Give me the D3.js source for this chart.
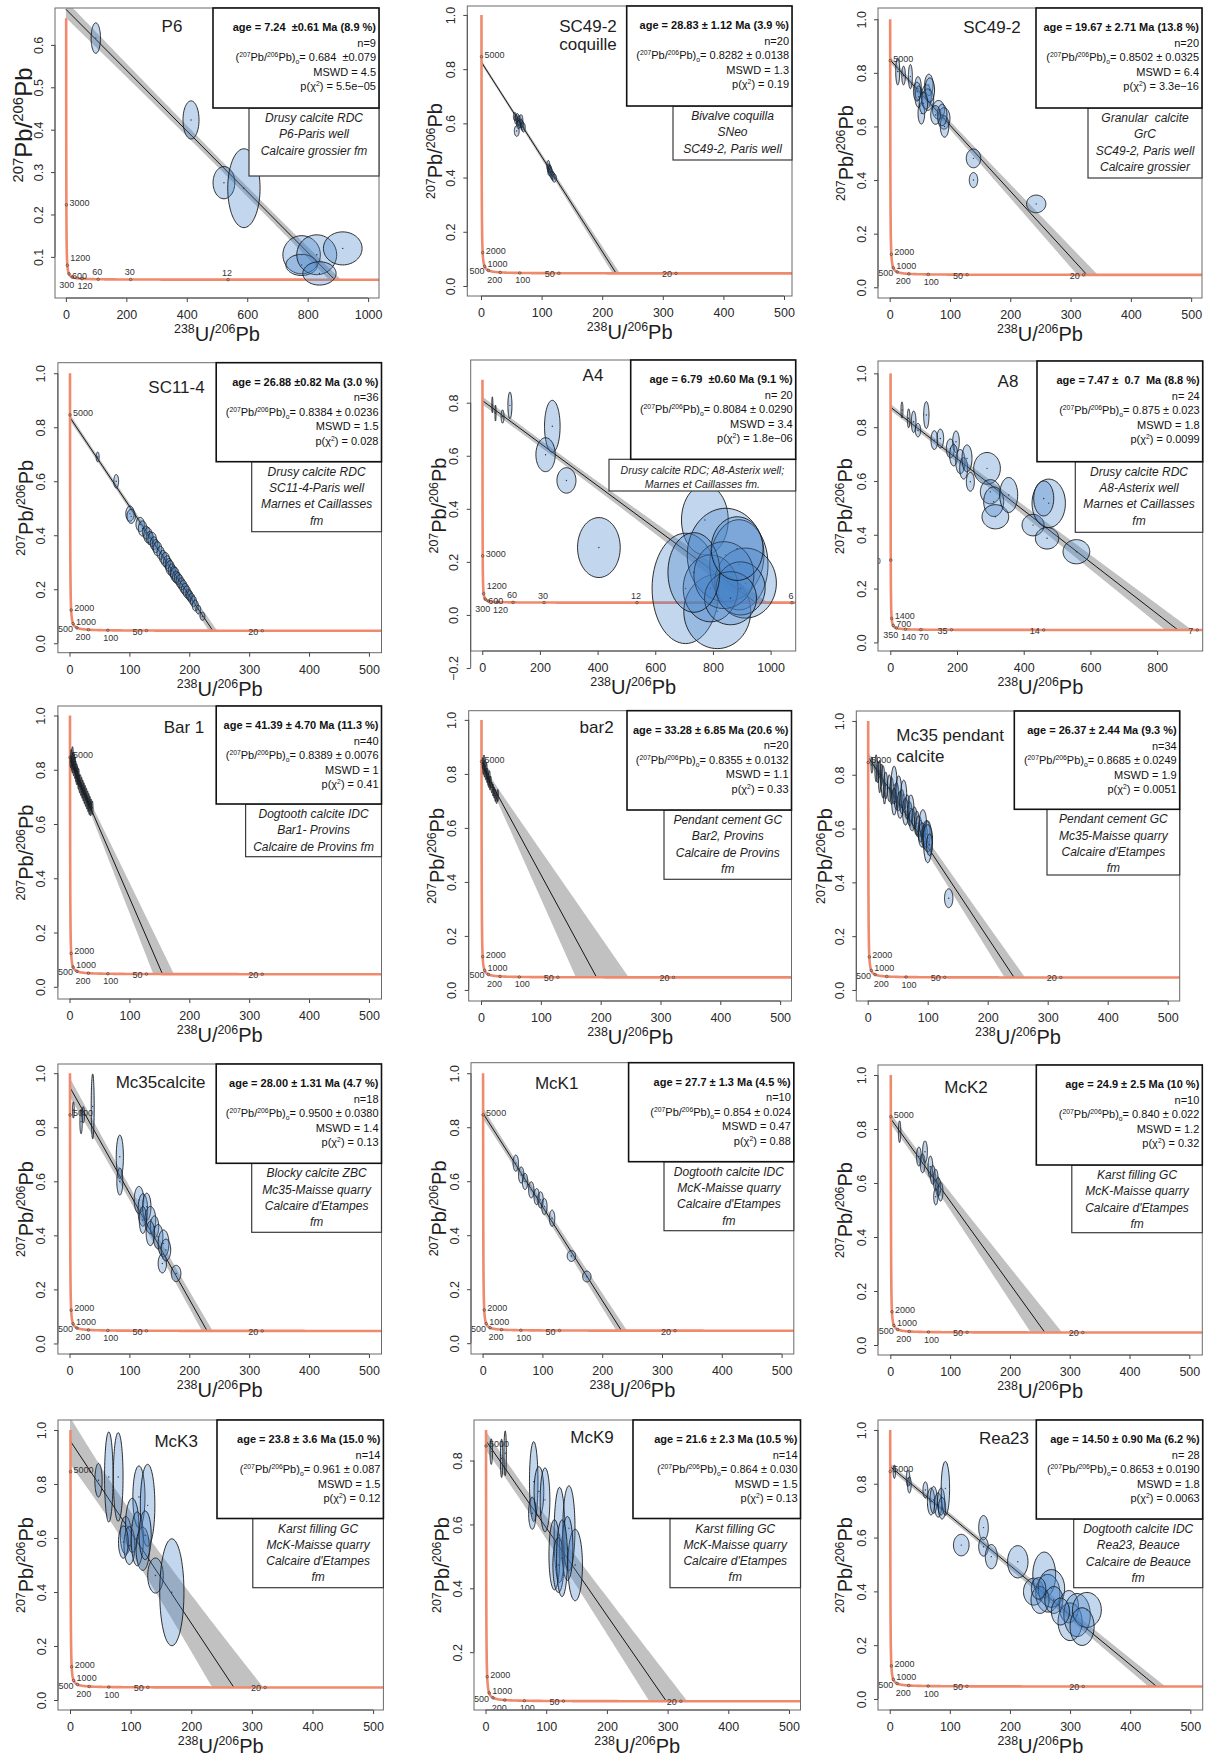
<!DOCTYPE html>
<html><head><meta charset="utf-8">
<script src="https://cdn.jsdelivr.net/npm/d3@7"></script>
<style>body{margin:0;background:#fff} svg{display:block;font-family:"Liberation Sans",Arial,Helvetica,sans-serif} text{white-space:pre}</style>
</head><body><svg id="chart" width="1211" height="1760"></svg>
<script>
// ---------- decay constants (per Ma) for the Tera-Wasserburg concordia ----------
const L8 = 1.55125e-4, L5 = 9.8485e-4, U85 = 137.818;

// ---------- sample metadata ----------
const sampleLabels = [["P6"],["SC49-2","coquille"],["SC49-2"],["SC11-4"],["A4"],["A8"],["Bar 1"],["bar2"],["Mc35 pendant","calcite"],["Mc35calcite"],["McK1"],["McK2"],["McK3"],["McK9"],["Rea23"]];
const ages   = [7.24, 28.83, 19.67, 26.88, 6.79, 7.47, 41.39, 33.28, 26.37, 28.00, 27.7, 24.9, 23.8, 21.6, 14.50];
const pb0    = [0.684, 0.8282, 0.8502, 0.8384, 0.8084, 0.875, 0.8389, 0.8355, 0.8685, 0.9500, 0.854, 0.840, 0.961, 0.864, 0.8653];
const bandY0 = [0.02, 0.008, 0.012, 0.012, 0.015, 0.012, 0.007, 0.012, 0.018, 0.035, 0.02, 0.02, 0.087, 0.03, 0.012];
const bandX  = [20, 6, 17, 7, 40, 40, 17, 42, 17, 9, 9, 26, 41, 31, 14];
const concTop = [0.663, 1, 1, 1, 0.887, 1, 1, 1, 1, 1, 1, 1, 1, 0.896, 1];

const statAge = ["age = 7.24  ±0.61 Ma (8.9 %)","age = 28.83 ± 1.12 Ma (3.9 %)","age = 19.67 ± 2.71 Ma (13.8 %)","age = 26.88 ±0.82 Ma (3.0 %)","age = 6.79  ±0.60 Ma (9.1 %)","age = 7.47 ±  0.7  Ma (8.8 %)","age = 41.39 ± 4.70 Ma (11.3 %)","age = 33.28 ± 6.85 Ma (20.6 %)","age = 26.37 ± 2.44 Ma (9.3 %)","age = 28.00 ± 1.31 Ma (4.7 %)","age = 27.7 ± 1.3 Ma (4.5 %)","age = 24.9 ± 2.5 Ma (10 %)","age = 23.8 ± 3.6 Ma (15.0 %)","age = 21.6 ± 2.3 Ma (10.5 %)","age = 14.50 ± 0.90 Ma (6.2 %)"];
const statN = ["n=9","n=20","n=20","n=36","n= 20","n= 24","n=40","n=20","n=34","n=18","n=10","n=10","n=14","n=14","n= 28"];
const statPb0 = ["0.684  ±0.079","0.8282 ± 0.0138","0.8502 ± 0.0325","0.8384 ± 0.0236","0.8084 ± 0.0290","0.875 ± 0.023","0.8389 ± 0.0076","0.8355 ± 0.0132","0.8685 ± 0.0249","0.9500 ± 0.0380","0.854 ± 0.024","0.840 ± 0.022","0.961 ± 0.087","0.864 ± 0.030","0.8653 ± 0.0190"];
const statMSWD = ["4.5","1.3","6.4","1.5","3.4","1.8","1","1.1","1.9","1.4","0.47","1.2","1.5","1.5","1.8"];
const statP = ["5.5e−05","0.19","3.3e−16","0.028","1.8e−06","0.0099","0.41","0.33","0.0051","0.13","0.88","0.32","0.12","0.13","0.0063"];
const descLines = [
 ["Drusy calcite RDC","P6-Paris well","Calcaire grossier fm"],
 ["Bivalve coquilla","SNeo","SC49-2, Paris well"],
 ["Granular  calcite","GrC","SC49-2, Paris well","Calcaire grossier"],
 ["Drusy calcite RDC","SC11-4-Paris well","Marnes et Caillasses","fm"],
 ["Drusy calcite RDC; A8-Asterix well;","Marnes et Caillasses fm."],
 ["Drusy calcite RDC","A8-Asterix well","Marnes et Caillasses","fm"],
 ["Dogtooth calcite IDC","Bar1- Provins","Calcaire de Provins fm"],
 ["Pendant cement GC","Bar2, Provins","Calcaire de Provins","fm"],
 ["Pendant cement GC","Mc35-Maisse quarry","Calcaire d'Etampes","fm"],
 ["Blocky calcite ZBC","Mc35-Maisse quarry","Calcaire d'Etampes","fm"],
 ["Dogtooth calcite IDC","McK-Maisse quarry","Calcaire d'Etampes","fm"],
 ["Karst filling GC","McK-Maisse quarry","Calcaire d'Etampes","fm"],
 ["Karst filling GC","McK-Maisse quarry","Calcaire d'Etampes","fm"],
 ["Karst filling GC","McK-Maisse quarry","Calcaire d'Etampes","fm"],
 ["Dogtooth calcite IDC","Rea23, Beauce","Calcaire de Beauce","fm"]
];

// ---------- tick labels ----------
const xTicks1000 = [0,200,400,600,800,1000];
const xTicks800 = [0,200,400,600,800];
const xTicks500 = [0,100,200,300,400,500];
const yTicksP6 = [0.1,0.2,0.3,0.4,0.5,0.6];
const yTicksA4 = [-0.2,0,0.2,0.4,0.6,0.8];
const yTicksMcK9 = [0.2,0.4,0.6,0.8];
const yTicks01 = [0,0.2,0.4,0.6,0.8,1.0];
const xTickSets = [xTicks1000,xTicks500,xTicks500,xTicks500,xTicks1000,xTicks800,xTicks500,xTicks500,xTicks500,xTicks500,xTicks500,xTicks500,xTicks500,xTicks500,xTicks500];
const yTickSets = [yTicksP6,yTicks01,yTicks01,yTicks01,yTicksA4,yTicks01,yTicks01,yTicks01,yTicks01,yTicks01,yTicks01,yTicks01,yTicks01,yTicksMcK9,yTicks01];

// ---------- concordia age labels (Ma) ----------
const concAgesStd = [5000,2000,1000,500,200,100,50,20];
const concPosStd  = ['r','r','r','l','bl','b','l','l'];
const concAgesP6  = [3000,1200,600,300,120,60,30,12];
const concPosP6   = ['r','ru','rd','bl','b','a','a','a'];
const concAgesA4  = [3000,1200,600,300,120,60,30,12,6];
const concPosA4   = ['r','ru','rd','bl','b','a','a','a','a'];
const concAgesA8  = [3500,1400,700,350,140,70,35,14,7];
const concPosA8   = ['ll','r','r','bl','b','b','l','l','l'];

// ---------- data ellipses: [238U/206Pb, 207Pb/206Pb, err x, err y] ----------
const ellP6 = [[99,0.616,15.5,0.036],[414,0.423,26.5,0.045],[523,0.275,36,0.038],[589,0.262,53.5,0.093],[780,0.105,62,0.045],[780,0.081,52,0.025],[830,0.105,66,0.047],[839,0.061,55,0.0275],[916,0.12,64,0.039]];
const ellSC49c = [[56,0.625,2.5,0.015],[58,0.615,2.5,0.018],[60,0.62,3,0.016],[61,0.605,2.5,0.015],[63,0.61,3,0.018],[64,0.60,3,0.015],[66,0.615,3,0.017],[67,0.598,3,0.015],[68,0.59,2.5,0.016],[70,0.585,3,0.017],[59,0.572,4,0.02],[62,0.595,3,0.015],[111,0.445,2.5,0.018],[112,0.435,2.5,0.016],[113,0.425,3,0.018],[114,0.43,2.5,0.015],[115,0.42,3,0.016],[117,0.41,3,0.015],[119,0.405,3,0.015],[121,0.398,3.5,0.015]];
const ellSC49g = [[13.3,0.805,3.3,0.05],[34.3,0.786,3.3,0.045],[47,0.742,5.5,0.044],[48,0.711,6,0.04],[52.5,0.649,5.5,0.04],[61,0.711,8,0.045],[65,0.755,7,0.04],[63,0.70,10,0.04],[81,0.662,10,0.035],[90,0.63,10,0.04],[91,0.60,7,0.04],[87,0.643,8,0.04],[139,0.481,12,0.035],[139,0.40,7,0.028],[243,0.311,16,0.033],[45.4,0.73,6,0.035],[66.4,0.736,8,0.045],[56,0.687,7,0.04],[23,0.79,3,0.035],[76,0.643,8,0.035]];
const ellSC114 = [[47,0.69,2.5,0.018],[78,0.60,4,0.025],[101,0.48,7,0.028],[103,0.47,7,0.026],[118,0.44,7,0.026],[122,0.425,7,0.028],[128,0.41,6,0.024],[131,0.40,7,0.028],[134,0.39,6,0.024],[138,0.385,7,0.026],[141,0.37,6,0.024],[144,0.36,6,0.024],[147,0.35,7,0.026],[152,0.335,6,0.024],[156,0.32,6,0.024],[160,0.31,7,0.026],[163,0.30,6,0.024],[166,0.29,6,0.024],[168,0.28,7,0.026],[171,0.27,6,0.024],[174,0.262,6,0.024],[176,0.255,7,0.026],[178,0.245,6,0.022],[181,0.24,6,0.022],[184,0.23,6,0.024],[187,0.22,6,0.022],[190,0.21,6,0.024],[193,0.20,6,0.022],[196,0.19,6,0.022],[199,0.18,5,0.02],[201,0.175,5,0.02],[204,0.165,5,0.02],[207,0.155,5,0.02],[210,0.14,5,0.02],[215,0.125,4,0.016],[222,0.10,4,0.015]];
const ellA4 = [[35,0.792,2,0.03],[46,0.761,2,0.03],[70.5,0.748,5,0.025],[96,0.79,7,0.05],[243,0.711,27,0.098],[219.6,0.604,33.5,0.064],[292,0.507,33,0.048],[404.5,0.254,74,0.113],[772,0.358,81,0.132],[705,0.10,116,0.208],[815,0.013,116,0.14],[844,0.226,133,0.176],[890,0.189,101,0.17],[913,0.12,107,0.132],[792,0.10,95,0.126],[838,0.15,104,0.126],[896,0.10,85,0.10],[861,0.063,90,0.10],[734,0.16,90,0.15],[884,0.25,90,0.12]];
const ellA8 = [[35,0.864,3,0.03],[55,0.833,4,0.035],[70,0.82,7,0.04],[83,0.789,8,0.025],[108,0.845,8,0.05],[132,0.752,10,0.035],[150,0.758,10,0.035],[180,0.721,12,0.035],[197,0.746,10,0.04],[190,0.696,12,0.04],[210,0.672,14,0.045],[220,0.647,12,0.04],[230,0.684,15,0.05],[240,0.597,12,0.035],[290,0.647,40,0.059],[300,0.56,30,0.045],[310,0.523,30,0.055],[315,0.467,40,0.045],[355,0.548,27,0.065],[428,0.436,33,0.04],[475,0.517,50,0.09],[460,0.535,30,0.065],[470,0.387,35,0.04],[558,0.337,40,0.045]];
const ellBar1 = [[2,0.83,1.2,0.022],[3,0.85,1.2,0.025],[4,0.82,1.2,0.022],[5,0.86,1.2,0.025],[5,0.81,1.2,0.022],[6,0.84,1.2,0.025],[7,0.80,1.2,0.022],[8,0.83,1.2,0.025],[9,0.79,1.2,0.022],[9,0.82,1.2,0.025],[10,0.81,1.2,0.022],[11,0.78,1.2,0.025],[12,0.80,1.2,0.022],[12,0.77,1.2,0.025],[13,0.79,1.2,0.022],[14,0.77,1.2,0.025],[15,0.75,1.2,0.022],[15,0.78,1.2,0.025],[16,0.76,1.2,0.022],[17,0.74,1.2,0.025],[18,0.76,1.2,0.022],[19,0.73,1.2,0.025],[20,0.75,1.2,0.022],[21,0.72,1.2,0.025],[22,0.74,1.2,0.022],[23,0.71,1.2,0.025],[24,0.73,1.2,0.022],[25,0.70,1.2,0.025],[26,0.72,1.2,0.022],[27,0.69,1.2,0.025],[28,0.71,1.2,0.022],[29,0.68,1.2,0.025],[30,0.70,1.2,0.022],[31,0.67,1.2,0.025],[32,0.69,1.2,0.022],[33,0.66,1.2,0.025],[34,0.68,1.2,0.022],[35,0.655,1.2,0.025],[36,0.67,1.2,0.022],[38,0.66,1.2,0.025]];
const ellBar2 = [[3,0.84,1.2,0.02],[4,0.82,1.2,0.022],[5,0.85,1.2,0.02],[6,0.81,1.2,0.022],[7,0.83,1.2,0.02],[8,0.80,1.2,0.022],[9,0.82,1.2,0.02],[10,0.79,1.2,0.022],[11,0.80,1.2,0.02],[12,0.78,1.2,0.022],[13,0.77,1.2,0.02],[14,0.79,1.2,0.022],[15,0.76,1.2,0.02],[16,0.77,1.2,0.022],[18,0.75,1.2,0.02],[20,0.74,1.2,0.022],[22,0.73,1.2,0.02],[24,0.72,1.2,0.022],[26,0.71,1.2,0.02],[28,0.72,1.2,0.022]];
const ellMc35p = [[7,0.836,1.5,0.03],[14,0.824,2,0.05],[17,0.81,2,0.04],[20,0.793,2,0.06],[23,0.80,2,0.04],[25.5,0.774,3,0.06],[28,0.731,2,0.04],[30,0.76,3,0.05],[36,0.75,3,0.05],[40,0.74,3,0.05],[44,0.762,5,0.07],[44,0.70,4,0.05],[48,0.72,4,0.05],[51.7,0.731,5,0.065],[54,0.688,5,0.05],[57,0.70,4,0.045],[60,0.725,5,0.055],[63,0.663,5,0.05],[66,0.68,4,0.045],[70,0.655,4,0.045],[72,0.675,5,0.05],[74,0.632,5,0.04],[78,0.64,4,0.04],[82,0.62,4,0.045],[85,0.607,5,0.04],[88,0.59,4,0.04],[90.6,0.576,6,0.045],[92,0.62,6,0.05],[95,0.57,5,0.045],[98,0.58,6,0.05],[100,0.551,7,0.078],[100,0.564,8,0.05],[103,0.54,5,0.04],[135,0.341,7,0.035]];
const ellMc35c = [[19.3,0.821,2,0.045],[38.7,0.877,2.5,0.12],[6.4,0.864,1.5,0.03],[84,0.691,6,0.08],[84,0.599,5,0.05],[116,0.531,8,0.05],[122.5,0.494,8,0.06],[129,0.506,7,0.05],[135,0.457,9,0.05],[142,0.432,7,0.04],[148,0.395,8,0.045],[157,0.37,9,0.05],[155,0.296,7,0.035],[178,0.259,8,0.03],[122.5,0.457,6,0.05],[135,0.407,7,0.045],[161,0.346,8,0.04],[23,0.846,2,0.03]];
const ellMcK1 = [[55.5,0.667,4.5,0.03],[64.6,0.623,4.5,0.03],[71,0.599,4.5,0.03],[81.4,0.568,4.5,0.03],[90.4,0.543,4.5,0.03],[96.9,0.531,4.5,0.03],[103.3,0.506,4.5,0.03],[116.2,0.463,4.5,0.03],[148.5,0.323,7,0.02],[174.3,0.247,7,0.02]];
const ellMcK2 = [[15.5,0.79,2,0.04],[47.8,0.698,4,0.035],[54,0.673,4,0.035],[58,0.716,4,0.04],[67,0.66,4,0.04],[71,0.63,4,0.035],[76,0.611,4,0.04],[80,0.586,4,0.035],[84,0.568,4,0.035],[76,0.549,3.5,0.03]];
const ellMcK3 = [[47,0.814,6,0.062],[64,0.826,7,0.167],[79.5,0.826,8,0.164],[113.7,0.752,10,0.115],[128,0.721,12,0.152],[92,0.61,9,0.07],[102.6,0.647,11,0.1],[98,0.572,9,0.07],[111,0.597,10,0.1],[120,0.56,11,0.08],[124,0.61,10,0.09],[141,0.461,12.8,0.065],[168,0.399,20,0.198],[88,0.585,8,0.06]];
const ellMcK9 = [[9.4,0.828,2,0.04],[26.5,0.807,2,0.06],[32.4,0.823,2,0.07],[79.4,0.734,7,0.125],[88,0.703,8,0.078],[98,0.677,8,0.1],[77,0.635,6,0.05],[122,0.567,9,0.149],[137.4,0.588,10,0.133],[113.5,0.505,9,0.11],[120,0.473,9,0.086],[147.7,0.473,12,0.112],[135,0.525,9,0.1],[126,0.494,9,0.12]];
const ellRea23 = [[7.7,0.845,2,0.025],[30.5,0.82,3,0.03],[32.7,0.796,3,0.03],[59.3,0.777,4,0.03],[68.7,0.734,6,0.05],[73,0.74,6,0.05],[80.5,0.721,6,0.045],[85.5,0.734,6,0.05],[92.6,0.783,7,0.1],[87,0.709,6,0.04],[119,0.572,13,0.04],[156,0.637,8,0.045],[156,0.566,8,0.035],[169,0.529,10,0.045],[213,0.51,17,0.06],[239.5,0.399,17,0.05],[257,0.461,19,0.085],[263,0.393,20,0.07],[269,0.411,22,0.07],[250,0.368,15,0.05],[273,0.368,15,0.05],[298,0.343,16,0.06],[300,0.287,20,0.07],[311.6,0.312,22,0.08],[328,0.331,24,0.065],[320,0.269,20,0.07],[284,0.325,15,0.05],[247.6,0.411,12,0.04]];
const ellipseSets = [ellP6,ellSC49c,ellSC49g,ellSC114,ellA4,ellA8,ellBar1,ellBar2,ellMc35p,ellMc35c,ellMcK1,ellMcK2,ellMcK3,ellMcK9,ellRea23];

// ---------- layout (pixel frames, not data) ----------
const layout = [
 {box:[55,379,8,298], xd:[-36,1036], yd:[0.003,0.687], stats:[213,108], desc:[249,176], name:[172,[31.7],'middle'], yts:24, ytx:23, yty:125, conc:'P6'},
 {box:[467.3,792,6,296], xd:[-22.6,513.2], yd:[-0.037,1.033], stats:[626.7,106], desc:[673,160], name:[588,[31.5,50],'middle'], yts:20, ytx:25, conc:'std'},
 {box:[878,1202,8,298], xd:[-19.4,518], yd:[-0.04,1.042], stats:[1036,108], desc:[1088,178], name:[992,[33],'middle'], yts:20, ytx:25, conc:'std'},
 {box:[57.9,381.5,362.7,652.7], xd:[-19.4,521], yd:[-0.035,1.039], stats:[216.2,461.7], desc:[251.7,531.7], name:[176.5,[392.7],'middle'], yts:20, ytx:25, conc:'std'},
 {box:[470.7,795.7,360,651], xd:[-40,1087], yd:[-0.136,0.961], stats:[630.7,459.3], desc:[609,491], name:[593,[381],'middle'], yts:20, ytx:25, conc:'A4', dfs:10.5},
 {box:[878,1202.7,361,651], xd:[-36.9,936.7], yd:[-0.032,1.046], stats:[1037,461.7], desc:[1075.3,532.3], name:[1008,[386.7],'middle'], yts:20, ytx:26, conc:'A8'},
 {box:[57.9,381.5,706,999], xd:[-19.4,521], yd:[-0.045,1.035], stats:[216.2,804], desc:[245.6,856.7], name:[184,[732.7],'middle'], yts:20, ytx:25, conc:'std'},
 {box:[468.7,791.5,710.7,1001], xd:[-20.6,519], yd:[-0.041,1.034], stats:[627,810], desc:[664,879.3], name:[596.6,[732.7],'middle'], yts:20, ytx:25, conc:'std'},
 {box:[856.3,1179.7,711,1001], xd:[-19,520], yd:[-0.041,1.037], stats:[1014.3,809.3], desc:[1047,875], name:[896.3,[741,761.7],'start'], yts:20, ytx:24, conc:'std'},
 {box:[57.9,381.5,1064,1354], xd:[-19.4,521], yd:[-0.039,1.034], stats:[216.2,1163.3], desc:[251.7,1232.3], name:[160.6,[1088.3],'middle'], yts:20, ytx:25, conc:'std'},
 {box:[471,793.8,1062.7,1354], xd:[-19.4,520.4], yd:[-0.04,1.039], stats:[628.6,1161.7], desc:[664,1230.7], name:[556.7,[1089],'middle'], yts:20, ytx:25, conc:'std'},
 {box:[878,1202.3,1065,1355], xd:[-20.6,521.7], yd:[-0.037,1.037], stats:[1036.3,1165], desc:[1071.8,1232.7], name:[966,[1093],'middle'], yts:20, ytx:26, conc:'std'},
 {box:[58,383.4,1420,1710], xd:[-19.8,517], yd:[-0.037,1.037], stats:[217,1518.5], desc:[252.8,1587.7], name:[176.2,[1446.7],'middle'], yts:20, ytx:25, conc:'std'},
 {box:[474,800.5,1420,1710], xd:[-19,519], yd:[0.019,0.927], stats:[633,1518.5], desc:[670,1587.7], name:[592,[1443.3],'middle'], yts:20, ytx:25, conc:'std'},
 {box:[878,1202.7,1420,1710], xd:[-19.5,520.6], yd:[-0.041,1.037], stats:[1036.3,1519], desc:[1073.7,1587.7], name:[1004,[1444.3],'middle'], yts:20, ytx:26, conc:'std'}
];
const concSets = {
  std:{ages:concAgesStd,pos:concPosStd}, P6:{ages:concAgesP6,pos:concPosP6},
  A4:{ages:concAgesA4,pos:concPosA4}, A8:{ages:concAgesA8,pos:concPosA8}
};

// ---------- helpers ----------
const FONT = '"Liberation Sans", Arial, Helvetica, sans-serif';
function concX(t){ return 1/(Math.exp(L8*t)-1); }
function concY(t){ return (Math.exp(L5*t)-1)/(Math.exp(L8*t)-1)/U85; }
function ageAtY(yt){ let lo=0.5, hi=20000; for(let k=0;k<80;k++){ const m=(lo+hi)/2; if(concY(m)<yt) lo=m; else hi=m; } return (lo+hi)/2; }
function rich(textSel, parts, fs){
  let shift = 0;
  parts.forEach(([s,k]) => {
    const target = k==='sup' ? -0.38*fs : (k==='sub' ? 0.3*fs : 0);
    const ts = textSel.append('tspan').attr('dy', (target-shift).toFixed(2)).text(s);
    if (k) ts.attr('font-size', (0.62*fs).toFixed(2));
    shift = target;
  });
}

const svg = d3.select('#chart');
svg.append('rect').attr('width',1211).attr('height',1760).attr('fill','#fff');
const defs = svg.append('defs');
const thetas = d3.range(0,72).map(k => 2*Math.PI*k/72);

for (let i=0;i<15;i++){
  const Lo = layout[i];
  const [L,R,T,B] = Lo.box;
  const x = d3.scaleLinear().domain(Lo.xd).range([L,R]);
  const y = d3.scaleLinear().domain(Lo.yd).range([B,T]);
  const lineGen = d3.line().x(d=>x(d[0])).y(d=>y(d[1]));
  const g = svg.append('g').attr('font-family',FONT);
  defs.append('clipPath').attr('id','c'+i).append('rect').attr('x',L).attr('y',T).attr('width',R-L).attr('height',B-T);
  const pg = g.append('g').attr('clip-path',`url(#c${i})`);

  // regression band + line
  const t = ages[i], xi = concX(t), yi = concY(t), y0 = pb0[i];
  const slope = (yi - y0)/xi;
  const hI = bandX[i]*Math.abs(slope);
  const xEnd = xi + 2.5*bandX[i];
  const xs = d3.range(0,401).map(k => xEnd*k/400);
  const hw = xx => { const u = xx/xi; return Math.hypot((1-u)*bandY0[i], u*hI); };
  const upper = xs.map(xx => [xx, Math.max(y0 + slope*xx + hw(xx), yi)]);
  const lower = xs.map(xx => [xx, Math.max(y0 + slope*xx - hw(xx), yi)]).reverse();
  pg.append('path').attr('d', lineGen(upper.concat(lower))+'Z').attr('fill','#a6a6a6').attr('fill-opacity',0.7);
  pg.append('path').attr('d', lineGen([[0,y0],[xi,yi]])).attr('fill','none').attr('stroke','#151515').attr('stroke-width',1);

  // concordia
  const tMax = ageAtY(concTop[i]);
  const tsamp = d3.range(0,801).map(k => Math.exp(Math.log(0.2) + (Math.log(tMax)-Math.log(0.2))*k/800));
  pg.append('path').attr('d', lineGen(tsamp.map(tt => [concX(tt), concY(tt)])))
    .attr('fill','none').attr('stroke','#ef8a6c').attr('stroke-width',2.6).attr('stroke-linejoin','round');
  const cs = concSets[Lo.conc];
  const offs = {r:[3,1,'start'], ru:[3,-4.5,'start'], rd:[3,5,'start'], l:[-4,4,'end'], ll:[-10,4,'end'], bl:[2,10.5,'end'], b:[3,10.5,'middle'], a:[-1,-4,'middle']};
  cs.ages.forEach((a,k) => {
    const px = x(concX(a)), py = y(concY(a));
    pg.append('circle').attr('cx',px).attr('cy',py).attr('r',1.3).attr('fill','none').attr('stroke','#333').attr('stroke-width',0.6);
    const o = offs[cs.pos[k]];
    pg.append('text').attr('x',px+o[0]).attr('y',py+o[1]).attr('text-anchor',o[2]).attr('font-size',9).attr('fill','#333').text(a);
  });

  // data ellipses
  ellipseSets[i].forEach(([cx,cy,sx,sy]) => {
    pg.append('path').attr('d', d3.line().x(d=>x(d[0])).y(d=>y(d[1])).curve(d3.curveLinearClosed)(thetas.map(th => [cx+sx*Math.cos(th), cy+sy*Math.sin(th)])))
      .attr('fill','rgb(70,130,200)').attr('fill-opacity',0.33).attr('stroke','#1a1a1a').attr('stroke-width',0.9);
    pg.append('circle').attr('cx',x(cx)).attr('cy',y(cy)).attr('r',0.7).attr('fill','#333');
  });

  // plot frame
  g.append('rect').attr('x',L).attr('y',T).attr('width',R-L).attr('height',B-T).attr('fill','none').attr('stroke','#6a6a6a').attr('stroke-width',1);

  // axes
  const xt = xTickSets[i], yt = yTickSets[i];
  const xa = g.append('g').attr('transform',`translate(0,${B})`)
    .call(d3.axisBottom(x).tickValues(xt).tickSize(4).tickFormat(d3.format('d')));
  xa.select('.domain').remove();
  xa.attr('font-size',12.5).attr('font-family',FONT).attr('color','#444');
  xa.selectAll('text').attr('y',12.5).attr('fill','#2a2a2a');
  g.append('line').attr('x1',x(xt[0])).attr('x2',x(xt[xt.length-1])).attr('y1',B).attr('y2',B).attr('stroke','#555');
  const ya = g.append('g').attr('transform',`translate(${L},0)`)
    .call(d3.axisLeft(y).tickValues(yt).tickSize(4).tickFormat(d3.format('.1f')));
  ya.select('.domain').remove();
  ya.attr('font-size',12.5).attr('font-family',FONT).attr('color','#444');
  ya.selectAll('text').attr('x',0).attr('dy',0).attr('text-anchor','middle').attr('transform','translate(-12.5,0) rotate(-90)').attr('fill','#2a2a2a');
  g.append('line').attr('x1',L).attr('x2',L).attr('y1',y(yt[0])).attr('y2',y(yt[yt.length-1])).attr('stroke','#555');

  // axis titles
  const xtt = g.append('text').attr('x',(L+R)/2).attr('y',B+43).attr('text-anchor','middle').attr('font-size',20).attr('fill','#1e1e1e');
  rich(xtt, [['238','sup'],['U/',''],['206','sup'],['Pb','']], 20);
  const ycy = Lo.yty !== undefined ? Lo.yty : (T+B)/2;
  const ytt = g.append('text').attr('transform',`translate(${L-Lo.ytx},${ycy}) rotate(-90)`).attr('text-anchor','middle').attr('font-size',Lo.yts).attr('fill','#1e1e1e');
  rich(ytt, [['207','sup'],['Pb/',''],['206','sup'],['Pb','']], Lo.yts);

  // description box
  const [sl, sb] = Lo.stats, [dl, db] = Lo.desc;
  g.append('rect').attr('x',dl).attr('y',sb).attr('width',R-dl).attr('height',db-sb).attr('fill','#fff').attr('stroke','#3a3a3a').attr('stroke-width',1.2);
  const dfs = Lo.dfs || 12, dsp = Lo.dfs ? 14 : 16.3, d0 = Lo.dfs ? 15 : 14;
  descLines[i].forEach((s,k) => {
    g.append('text').attr('x',(dl+R)/2).attr('y',sb+d0+k*dsp).attr('text-anchor','middle').attr('font-size',dfs).attr('font-style','italic').attr('fill','#1e1e1e').text(s);
  });
  // stats box
  g.append('rect').attr('x',sl).attr('y',T).attr('width',R-sl).attr('height',sb-T).attr('fill','#fff').attr('stroke','#111').attr('stroke-width',1.6);
  const sx = R-3, sy = [23,38.5,53,67.5,82].map(v => T+v);
  g.append('text').attr('x',sx).attr('y',sy[0]).attr('text-anchor','end').attr('font-size',11).attr('font-weight','bold').attr('fill','#111').text(statAge[i]);
  g.append('text').attr('x',sx).attr('y',sy[1]).attr('text-anchor','end').attr('font-size',11).attr('fill','#111').text(statN[i]);
  const t3 = g.append('text').attr('x',sx).attr('y',sy[2]).attr('text-anchor','end').attr('font-size',11).attr('fill','#111');
  rich(t3, [['(',''],['207','sup'],['Pb/',''],['206','sup'],['Pb)',''],['o','sub'],['= '+statPb0[i],'']], 11);
  g.append('text').attr('x',sx).attr('y',sy[3]).attr('text-anchor','end').attr('font-size',11).attr('fill','#111').text('MSWD = '+statMSWD[i]);
  const t5 = g.append('text').attr('x',sx).attr('y',sy[4]).attr('text-anchor','end').attr('font-size',11).attr('fill','#111');
  rich(t5, [['p(χ',''],['2','sup'],[') = '+statP[i],'']], 11);

  // sample name
  const [nx, nys, na] = Lo.name;
  sampleLabels[i].forEach((s,k) => {
    g.append('text').attr('x',nx).attr('y',nys[k]).attr('text-anchor',na).attr('font-size',17).attr('fill','#1e1e1e').text(s);
  });
}
</script></body></html>
